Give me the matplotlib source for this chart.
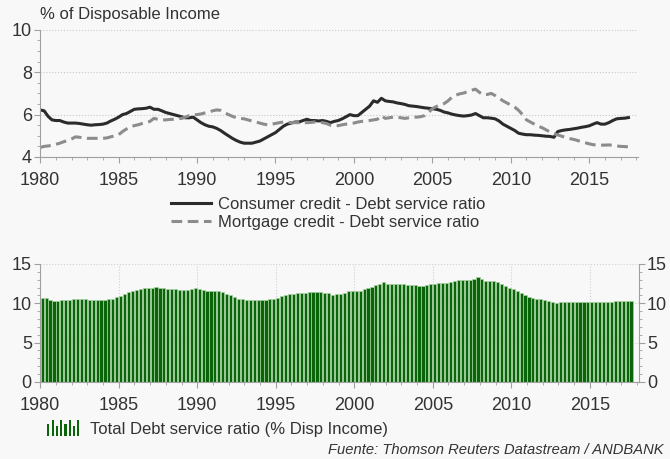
import numpy as np
import matplotlib
matplotlib.use("Agg")
import matplotlib.pyplot as plt
from matplotlib.ticker import MultipleLocator

plt.rcParams['font.family'] = ['Liberation Sans', 'DejaVu Sans']

# quarterly data, 1980Q1 .. 2017Q3
start_year = 1980
consumer = [
    6.22, 6.18, 5.92, 5.75,  5.72, 5.72, 5.65, 5.60,  5.60, 5.60, 5.58, 5.55,
    5.52, 5.50, 5.52, 5.53,  5.55, 5.60, 5.70, 5.78,  5.88, 6.00, 6.05, 6.15,
    6.25, 6.27, 6.28, 6.30,  6.35, 6.25, 6.25, 6.18,  6.10, 6.05, 6.00, 5.95,
    5.90, 5.85, 5.85, 5.88,  5.75, 5.62, 5.52, 5.45,  5.42, 5.35, 5.25, 5.12,
    5.00, 4.88, 4.78, 4.70,  4.65, 4.65, 4.65, 4.70,  4.75, 4.85, 4.95, 5.05,
    5.15, 5.30, 5.45, 5.55,  5.60, 5.65, 5.65, 5.72,  5.78, 5.72, 5.72, 5.70,
    5.72, 5.68, 5.62, 5.68,  5.72, 5.80, 5.90, 6.00,  5.95, 5.95, 6.10, 6.25,
    6.40, 6.65, 6.58, 6.77,  6.65, 6.62, 6.60, 6.55,  6.52, 6.48, 6.42, 6.40,
    6.38, 6.35, 6.32, 6.30,  6.28, 6.25, 6.20, 6.12,  6.08, 6.02, 5.98, 5.95,
    5.93, 5.95, 5.98, 6.05,  5.95, 5.85, 5.85, 5.83,  5.80, 5.70, 5.55, 5.45,
    5.35, 5.25, 5.12, 5.08,  5.05, 5.05, 5.03, 5.02,  5.00, 4.98, 4.97, 4.93,
    5.20, 5.25, 5.28, 5.30,  5.33, 5.36, 5.40, 5.43,  5.47, 5.55, 5.62, 5.55,
    5.55, 5.62, 5.72, 5.80,  5.82, 5.83, 5.86,
]
mortgage = [
    4.45, 4.50, 4.52, 4.55,  4.60, 4.65, 4.72, 4.78,  4.85, 4.95, 4.93, 4.90,
    4.88, 4.88, 4.88, 4.88,  4.88, 4.90, 4.95, 5.00,  5.05, 5.20, 5.32, 5.42,
    5.48, 5.52, 5.58, 5.62,  5.68, 5.82, 5.78, 5.75,  5.75, 5.77, 5.78, 5.80,
    5.82, 5.88, 5.95, 5.98,  6.00, 6.03, 6.08, 6.12,  6.18, 6.22, 6.20, 6.10,
    6.00, 5.92, 5.85, 5.82,  5.80, 5.75, 5.70, 5.65,  5.60, 5.55, 5.52, 5.55,
    5.58, 5.62, 5.65, 5.65,  5.62, 5.62, 5.62, 5.62,  5.62, 5.63, 5.65, 5.65,
    5.62, 5.58, 5.50, 5.48,  5.48, 5.52, 5.55, 5.58,  5.60, 5.65, 5.68, 5.70,
    5.72, 5.75, 5.78, 5.95,  5.82, 5.85, 5.88, 5.88,  5.85, 5.82, 5.85, 5.88,
    5.88, 5.90, 5.95, 6.10,  6.28, 6.38, 6.45, 6.52,  6.65, 6.82, 6.92, 6.98,
    7.02, 7.08, 7.15, 7.20,  7.05, 6.93, 6.95, 7.00,  6.90, 6.78, 6.65, 6.55,
    6.45, 6.35, 6.20, 6.00,  5.75, 5.65, 5.55, 5.45,  5.38, 5.28, 5.18, 5.10,
    5.04, 4.98, 4.92, 4.87,  4.83, 4.78, 4.72, 4.67,  4.62, 4.58, 4.56, 4.56,
    4.56, 4.57, 4.55, 4.52,  4.50, 4.49, 4.48,
]
total = [
    10.7, 10.7, 10.4, 10.3,  10.3, 10.4, 10.4, 10.4,  10.5, 10.6, 10.5, 10.5,
    10.4, 10.4, 10.4, 10.4,  10.4, 10.5, 10.6, 10.8,  10.9, 11.2, 11.4, 11.6,
    11.7, 11.8, 11.9, 11.9,  12.0, 12.1, 12.0, 11.9,  11.8, 11.8, 11.8, 11.7,
    11.7, 11.7, 11.8, 11.9,  11.8, 11.7, 11.6, 11.6,  11.6, 11.6, 11.4, 11.2,
    11.0, 10.8, 10.6, 10.5,  10.4, 10.4, 10.4, 10.4,  10.4, 10.4, 10.5, 10.6,
    10.7, 10.9, 11.1, 11.2,  11.2, 11.3, 11.3, 11.3,  11.4, 11.4, 11.4, 11.4,
    11.3, 11.3, 11.1, 11.2,  11.2, 11.3, 11.5, 11.6,  11.5, 11.6, 11.8, 12.0,
    12.1, 12.3, 12.4, 12.7,  12.5, 12.5, 12.5, 12.4,  12.4, 12.3, 12.3, 12.3,
    12.2, 12.2, 12.3, 12.4,  12.5, 12.6, 12.6, 12.6,  12.7, 12.8, 12.9, 12.9,
    13.0, 13.0, 13.1, 13.3,  13.1, 12.8, 12.8, 12.8,  12.7, 12.5, 12.2, 12.0,
    11.8, 11.6, 11.3, 11.1,  10.8, 10.7, 10.6, 10.5,  10.4, 10.3, 10.2, 10.0,
    10.2, 10.2, 10.2, 10.2,  10.2, 10.1, 10.1, 10.1,  10.1, 10.1, 10.2, 10.1,
    10.1, 10.2, 10.3, 10.3,  10.3, 10.3, 10.3,
]
dates = start_year + np.arange(len(consumer)) * 0.25

bg = '#f8f8f8'
txt = '#333333'
axc = '#a0a0a0'

fig = plt.figure(figsize=(6.7, 4.59), dpi=100, facecolor=bg)

# ---- top panel: the two ratios
ax1 = fig.add_axes([0.06, 0.658, 0.892, 0.277], facecolor=bg)
ax1.plot(dates, consumer, color='#2b2b2b', lw=2.2, label='Consumer credit - Debt service ratio')
ax1.plot(dates, mortgage, color='#8c8c8c', lw=2.2, ls=(0, (3.5, 1.8)),
         label='Mortgage credit - Debt service ratio')
ax1.set_xlim(1980, 2018.1)
ax1.set_ylim(4, 10)
ax1.yaxis.set_major_locator(MultipleLocator(2))
ax1.yaxis.set_minor_locator(MultipleLocator(0.5))
ax1.xaxis.set_major_locator(MultipleLocator(5))
ax1.xaxis.set_minor_locator(MultipleLocator(1))
ax1.grid(axis='y', color='#c8c8c8', ls=':', lw=0.8)
for s in ['top', 'right']:
    ax1.spines[s].set_visible(False)
for s in ['left', 'bottom']:
    ax1.spines[s].set_color(axc)
ax1.tick_params(which='both', colors=axc, labelcolor=txt, labelsize=13)
ax1.tick_params(axis='y', pad=2)
ax1.tick_params(axis='x', pad=7)
ax1.tick_params(which='major', length=4)
ax1.tick_params(which='minor', length=2)
ax1.text(0.0, 1.06, '% of Disposable Income', transform=ax1.transAxes,
         fontsize=12, color=txt, ha='left', va='bottom')
ax1.legend(loc='upper center', bbox_to_anchor=(0.482, -0.25), frameon=False,
           fontsize=12, handlelength=2.4, handletextpad=0.4, labelspacing=0.15,
           borderpad=0, labelcolor=txt)

# ---- bottom panel: total
ax2 = fig.add_axes([0.06, 0.168, 0.893, 0.257], facecolor=bg)
ax2.bar(dates + 0.125, total, width=0.2, color='#0a640a', edgecolor='#a6d3a0', lw=0.5)
ax2.set_xlim(1980, 2018.1)
ax2.set_ylim(0, 15)
ax2.yaxis.set_major_locator(MultipleLocator(5))
ax2.yaxis.set_minor_locator(MultipleLocator(1))
ax2.xaxis.set_major_locator(MultipleLocator(5))
ax2.xaxis.set_minor_locator(MultipleLocator(1))
ax2.grid(color='#d0d0d0', ls=':', lw=0.8)
ax2.set_axisbelow(True)
ax2.spines['top'].set_visible(False)
for s in ['left', 'bottom', 'right']:
    ax2.spines[s].set_color(axc)
ax2.tick_params(which='both', colors=axc, labelcolor=txt, labelsize=13,
                right=True, labelright=True)
ax2.tick_params(axis='y', pad=2)
ax2.tick_params(axis='x', pad=7)
ax2.tick_params(which='major', length=4)
ax2.tick_params(which='minor', length=2)

# legend icon for the bars
icon = fig.add_axes([0.069, 0.05, 0.051, 0.035])
icon.bar(np.arange(8), [0.75, 1, 0.6, 1, 0.75, 1, 0.6, 1], width=0.5, color='#0a640a')
icon.set_xlim(-0.5, 7.5)
icon.set_ylim(0, 1)
icon.axis('off')
fig.text(0.134, 0.065, 'Total Debt service ratio (% Disp Income)', fontsize=12,
         color=txt, va='center', ha='left')
fig.text(0.99, 0.02, 'Fuente: Thomson Reuters Datastream / ANDBANK', fontsize=10.6,
         color=txt, style='italic', ha='right', va='center')

fig.savefig('out.png', dpi=100, facecolor=bg)
